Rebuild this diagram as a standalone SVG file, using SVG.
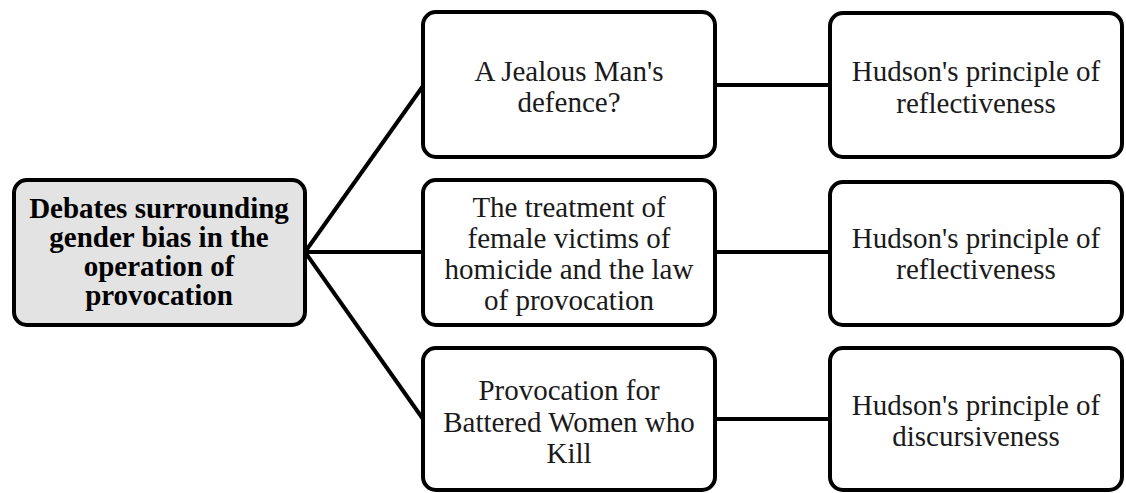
<svg xmlns="http://www.w3.org/2000/svg" width="1126" height="493" viewBox="0 0 1126 493">
<style>
.box{fill:#ffffff;stroke:#000;stroke-width:4}
.root{fill:#e3e3e3;stroke:#000;stroke-width:4}
.t{font-family:"Liberation Serif","Times New Roman",serif;font-size:29px;fill:#1a1a1a;text-anchor:middle}
.b{font-weight:bold;fill:#000}
.c{stroke:#000;stroke-width:4;fill:none}
</style>
<g id="connectors">
<line class="c" x1="305" y1="252" x2="423" y2="86"/>
<line class="c" x1="305" y1="252" x2="423" y2="252"/>
<line class="c" x1="305" y1="252" x2="423" y2="419"/>
<line class="c" x1="715" y1="85" x2="830" y2="85"/>
<line class="c" x1="715" y1="252" x2="830" y2="252"/>
<line class="c" x1="715" y1="419" x2="830" y2="419"/>
</g>
<g id="root">
<rect class="root" x="14" y="180" width="291" height="145" rx="13"/>
<text class="t b" x="159" y="218">Debates surrounding</text>
<text class="t b" x="159" y="247">gender bias in the</text>
<text class="t b" x="159" y="276">operation of</text>
<text class="t b" x="159" y="305">provocation</text>
</g>
<g id="n1">
<rect class="box" x="423" y="12" width="292" height="145" rx="13"/>
<text class="t" x="569" y="81">A Jealous Man's</text>
<text class="t" x="569" y="112">defence?</text>
</g>
<g id="n2">
<rect class="box" x="423" y="180" width="292" height="145" rx="13"/>
<text class="t" x="569" y="217">The treatment of</text>
<text class="t" x="569" y="248">female victims of</text>
<text class="t" x="569" y="279">homicide and the law</text>
<text class="t" x="569" y="310">of provocation</text>
</g>
<g id="n3">
<rect class="box" x="423" y="348" width="292" height="142" rx="13"/>
<text class="t" x="569" y="400">Provocation for</text>
<text class="t" x="569" y="432">Battered Women who</text>
<text class="t" x="569" y="463">Kill</text>
</g>
<g id="r1">
<rect class="box" x="830" y="13" width="292" height="144" rx="13"/>
<text class="t" x="976" y="81">Hudson's principle of</text>
<text class="t" x="976" y="113">reflectiveness</text>
</g>
<g id="r2">
<rect class="box" x="830" y="182" width="292" height="143" rx="13"/>
<text class="t" x="976" y="248">Hudson's principle of</text>
<text class="t" x="976" y="279">reflectiveness</text>
</g>
<g id="r3">
<rect class="box" x="830" y="348" width="292" height="142" rx="13"/>
<text class="t" x="976" y="415">Hudson's principle of</text>
<text class="t" x="976" y="446">discursiveness</text>
</g>
</svg>
